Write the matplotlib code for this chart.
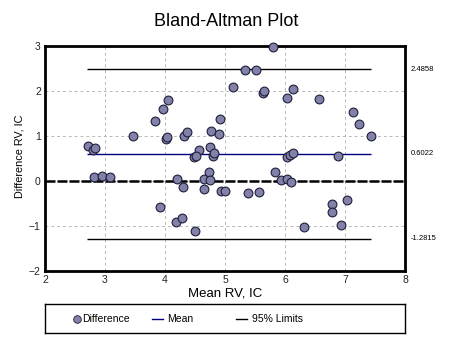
import numpy as np
import matplotlib.pyplot as plt
from matplotlib.lines import Line2D

plt.rcParams['font.family'] = ['Liberation Sans', 'DejaVu Sans']

# mean of the two methods and their difference, one entry per subject
mean_rv = [5.80, 5.34, 5.51, 5.14, 5.63, 5.65, 6.04, 6.14, 6.56, 7.14,
           4.05, 3.97, 3.84, 4.91, 3.47, 4.01, 4.04, 4.32, 4.37, 4.77,
           4.90, 2.71, 2.80, 2.83, 4.57, 4.75, 4.49, 4.51, 4.80, 4.82,
           6.04, 6.08, 6.14, 6.88, 7.23, 7.43, 2.82, 2.95, 3.09, 4.20,
           4.30, 4.65, 4.74, 4.75, 4.65, 4.93, 5.00, 5.39, 5.57, 5.83,
           5.94, 6.04, 6.10, 3.92, 4.19, 4.29, 4.50, 6.31, 6.79, 6.79,
           7.03, 6.93]
diff_rv = [2.98, 2.46, 2.46, 2.10, 1.96, 2.00, 1.84, 2.04, 1.82, 1.54,
           1.81, 1.59, 1.33, 1.37, 1.01, 0.93, 0.97, 1.01, 1.10, 1.11,
           1.04, 0.77, 0.70, 0.74, 0.70, 0.76, 0.53, 0.56, 0.56, 0.63,
           0.53, 0.58, 0.63, 0.56, 1.27, 1.01, 0.08, 0.11, 0.10, 0.05,
           -0.14, 0.04, 0.19, 0.02, -0.18, -0.23, -0.22, -0.27, -0.25, 0.21,
           0.02, 0.04, -0.02, -0.58, -0.90, -0.82, -1.10, -1.03, -0.50, -0.69,
           -0.42, -0.98]

mean_diff = 0.6022
upper_limit = 2.4858
lower_limit = -1.2815
line_start, line_end = 2.70, 7.43

point_face = '#8181a9'
point_edge = '#1e1e3c'

fig = plt.figure(figsize=(4.53, 3.40), dpi=100)
ax = fig.add_axes([45 / 453, 1 - 271 / 340, 360 / 453, 225 / 340])

ax.set_xlim(2, 8)
ax.set_ylim(-2, 3)
ax.set_xticks(range(2, 9))
ax.set_yticks(range(-2, 4))
ax.tick_params(length=0, labelsize=7.5, pad=3, colors='#222222')
ax.grid(True, color='#b8b8b8', linestyle=(0, (3, 3)), linewidth=0.7)
for s in ax.spines.values():
    s.set_linewidth(2)

ax.axhline(0, color='black', linewidth=1.8, linestyle=(0, (4, 0.8)), zorder=2)
ax.hlines([upper_limit, lower_limit], line_start, line_end, color='black', linewidth=1, zorder=3)
ax.hlines(mean_diff, line_start, line_end, color='#000080', linewidth=1, zorder=3)
ax.scatter(mean_rv, diff_rv, s=40, color=point_face, edgecolors=point_edge, linewidths=0.8, zorder=4,
           clip_on=False)

for val in (upper_limit, mean_diff, lower_limit):
    ax.annotate('%.4f' % val, xy=(1, val), xycoords=('axes fraction', 'data'),
                xytext=(4, 0), textcoords='offset points', va='center', ha='left', fontsize=5.5)

ax.set_xlabel('Mean RV, IC', fontsize=9.5, labelpad=2)
ax.set_ylabel('Difference RV, IC', fontsize=7.8)
ax.yaxis.set_label_coords(-0.058, 0.51)
fig.text(0.5, 1 - 21 / 340, 'Bland-Altman Plot', ha='center', va='center', fontsize=13)

# legend drawn by hand in a framed box under the plot (x in pixels)
leg_ax = fig.add_axes([45 / 453, 1 - 333 / 340, 360 / 453, 29 / 340])
leg_ax.set_xlim(45, 405)
leg_ax.set_ylim(0, 1)
leg_ax.set_xticks([])
leg_ax.set_yticks([])
for s in leg_ax.spines.values():
    s.set_linewidth(1)
leg_ax.plot([77], [0.5], marker='o', markersize=5.5, markerfacecolor=point_face,
            markeredgecolor=point_edge, markeredgewidth=0.6)
leg_ax.plot([152, 163], [0.5, 0.5], color='#000080', linewidth=1)
leg_ax.plot([236, 247], [0.5, 0.5], color='black', linewidth=1)
for x, label in [(82, 'Difference'), (167, 'Mean'), (252, '95% Limits')]:
    leg_ax.text(x, 0.5, label, va='center', ha='left', fontsize=7.5)

fig.savefig('out.png', dpi=100)
